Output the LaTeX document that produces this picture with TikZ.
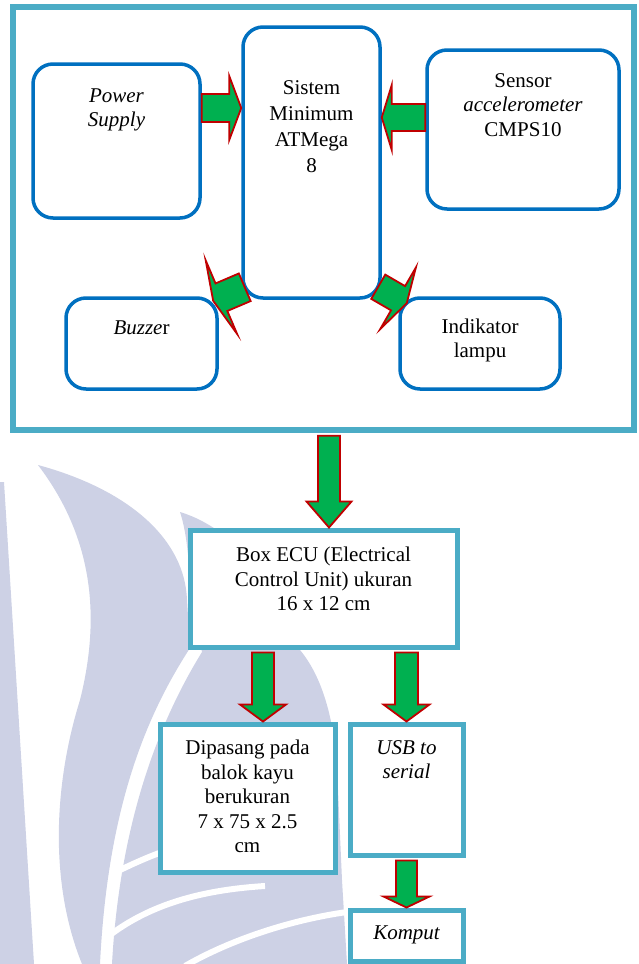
\documentclass[tikz,border=0pt]{standalone}
\usepackage{fontspec}
\setmainfont{Liberation Serif}
\usetikzlibrary{positioning,calc}

\definecolor{framecol}{HTML}{4BACC6}
\definecolor{boxblue}{HTML}{0070C0}
\definecolor{arrgreen}{HTML}{00B050}
\definecolor{arrred}{HTML}{C00000}
\definecolor{wmark}{HTML}{CDD1E5}

\tikzset{
  rbox/.style={draw=boxblue, line width=3.5pt, rounded corners=20pt, fill=white, inner sep=0pt},
  sbox/.style={draw=framecol, line width=5pt, fill=white, inner sep=0pt},
  txt/.style={align=center, inner sep=0pt, font=\fontsize{21}{24.5}\selectfont},
  itxt/.style={txt, font=\fontsize{21}{24.5}\selectfont\itshape},
  blkarr/.style={fill=arrgreen, draw=arrred, line width=1.8pt, line join=miter}
}

% block arrow: start, tip, shaft half width, head half width, head length
\newcommand{\blkarrow}[5]{%
  \draw[blkarr] let \p1=(#1), \p2=(#2),
    \n1={atan2(\y2-\y1,\x2-\x1)}, \n2={veclen(\x2-\x1,\y2-\y1)}, \n3={\n2-#5pt} in
    [shift={(\p1)}, rotate=\n1]
    (0pt,#3pt) -- (\n3,#3pt) -- (\n3,#4pt) -- (\n2,0pt)
    -- (\n3,-#4pt) -- (\n3,-#3pt) -- (0pt,-#3pt) -- cycle;}

\begin{document}
\begin{tikzpicture}[x=1pt,y=-1pt]
  \useasboundingbox (0,0) rectangle (638,964);

  % watermark
  \fill[wmark] (0,482) -- (4,482) -- (34,964) -- (0,964) -- cycle;
  \fill[wmark] (38,465) .. controls (130,490) and (185,540) .. (187,600) -- (190,648)
    .. controls (150,710) and (108,800) .. (100,964) -- (82,964)
    .. controls (48,880) and (55,780) .. (80,700)
    .. controls (100,620) and (95,540) .. (38,465) -- cycle;
  \fill[wmark] (180,512) .. controls (240,530) and (290,600) .. (300,650)
    .. controls (325,680) and (337,730) .. (338,790) -- (342,880) -- (347,964)
    -- (112,964) .. controls (120,820) and (160,720) .. (202,652)
    -- (190,600) .. controls (190,560) and (186,530) .. (180,512) -- cycle;
  \draw[white, line width=6pt] (112,874) .. controls (140,860) and (160,852) .. (180,846);
  \draw[white, line width=6pt] (110,935) .. controls (150,905) and (200,890) .. (265,886);
  \draw[white, line width=6pt] (185,966) .. controls (230,940) and (290,920) .. (347,912);

  % upper frame
  \node[draw=framecol, line width=5.5pt, fill=white, inner sep=0pt,
        minimum width=621pt, minimum height=423pt] (frame) at (323.5,218.5) {};

  \node[rbox, minimum width=167pt, minimum height=154pt] (ps) at (116.5,141) {};
  \node[rbox, minimum width=137pt, minimum height=271pt] (sm) at (311.5,162.5) {};
  \node[rbox, minimum width=192pt, minimum height=159pt] (sen) at (523,129.5) {};
  \node[rbox, minimum width=151pt, minimum height=91pt] (buz) at (141.5,343.5) {};
  \node[rbox, minimum width=160pt, minimum height=91pt] (ind) at (480,343.5) {};

  \node[itxt, anchor=north, below=26pt of ps.north] (psTxt) {Power\\Supply};
  \node[txt, anchor=north, below=55pt of sm.north, font=\fontsize{21}{26}\selectfont] (smTxt)
    {Sistem\\Minimum\\ATMega\\8};
  \node[txt, anchor=north, below=25pt of sen.north] (senTxt)
    {Sensor\\\textit{accelerometer}\\CMPS10};
  \node[txt, anchor=north, below=24pt of buz.north] (buzTxt) {\textit{Buzze}r};
  \node[txt, anchor=north, below=22pt of ind.north] (indTxt) {Indikator\\lampu};

  \coordinate (psOut) at ([yshift=33pt]ps.east);
  \coordinate (senOut) at ([yshift=12pt]sen.west);
  \coordinate (smBl) at ([xshift=3.5pt,yshift=12.5pt]sm.south west);
  \coordinate (buzTip) at ([xshift=-5.6pt,yshift=-4.5pt]buz.north east);
  \coordinate (smBr) at ([xshift=-3.5pt,yshift=13pt]sm.south east);
  \coordinate (indTip) at ([xshift=8.5pt,yshift=-7pt]ind.north west);

  \blkarrow{psOut}{psOut -| sm.west}{14}{32}{12}
  \blkarrow{senOut}{senOut -| sm.east}{13.5}{32.5}{10}
  \blkarrow{smBl}{buzTip}{15}{40}{9}
  \blkarrow{smBr}{indTip}{14}{35.6}{10}

  % lower chain
  \node[sbox, minimum width=267pt, minimum height=117pt] (ecu) at (323.5,588.5) {};
  \node[sbox, minimum width=175pt, minimum height=148pt] (dip) at (247.5,798) {};
  \node[sbox, minimum width=113pt, minimum height=131pt] (usb) at (406.5,789.5) {};
  \node[sbox, minimum width=113pt, minimum height=51pt] (kom) at (406.5,935.5) {};

  \node[txt, anchor=north, below=19.5pt of ecu.north] (ecuTxt)
    {Box ECU (Electrical\\Control Unit) ukuran\\16 x 12 cm};
  \node[txt, anchor=north, below=18.5pt of dip.north] (dipTxt)
    {Dipasang pada\\balok kayu\\berukuran\\7 x 75 x 2.5\\cm};
  \node[itxt, anchor=north, below=18.5pt of usb.north] (usbTxt) {USB to\\serial};
  \node[itxt] (komTxt) at ([yshift=1pt]kom.center) {Komput};

  \coordinate (ecuIn) at ([xshift=5.5pt]ecu.north);
  \coordinate (frOut) at (frame.south -| ecuIn);
  \coordinate (dipIn) at ([xshift=15.5pt]dip.north);
  \coordinate (ecuOutL) at (dipIn |- ecu.south);
  \coordinate (ecuOutR) at (usb.north |- ecu.south);

  \blkarrow{[yshift=-3pt]frOut}{ecuIn}{11}{22.5}{26}
  \blkarrow{[yshift=-3pt]ecuOutL}{dipIn}{11}{23}{17}
  \blkarrow{[yshift=-3pt]ecuOutR}{usb.north}{11.5}{23}{17}
  \blkarrow{[yshift=-3pt]usb.south}{kom.north}{10.5}{23}{11}
\end{tikzpicture}
\end{document}
